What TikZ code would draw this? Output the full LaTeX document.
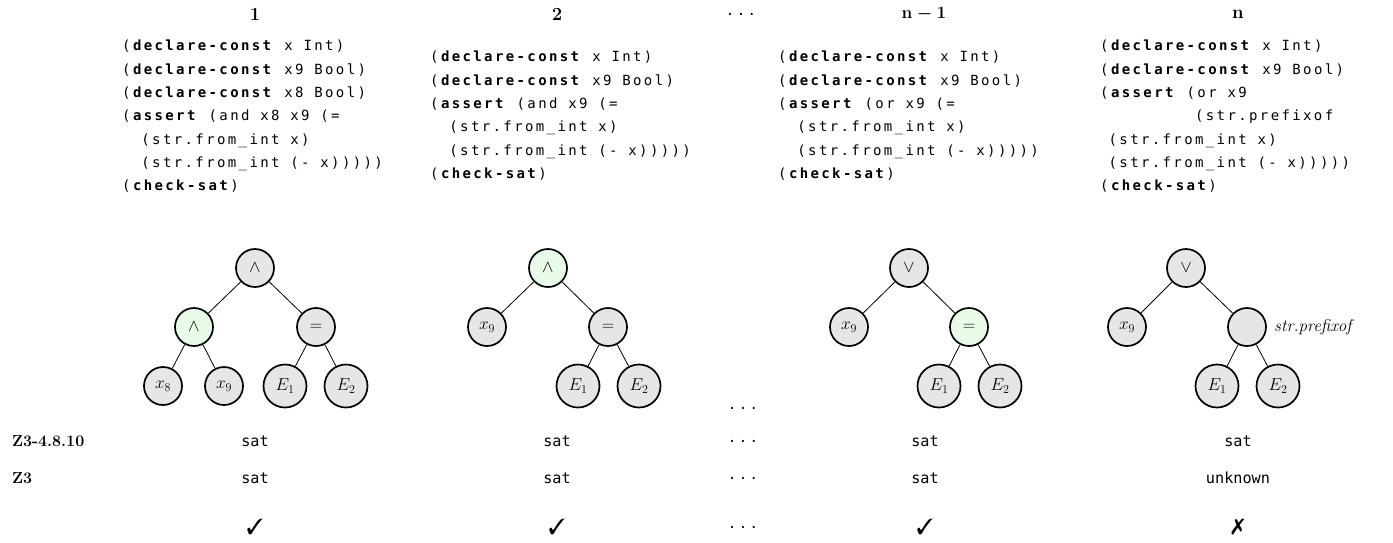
\documentclass[tikz,border=0pt]{standalone}
\usepackage{fontspec}
\usepackage{pifont}
\newfontfamily\code[LetterSpace=17]{DejaVu Sans Mono}
\newfontfamily\plainmono{DejaVu Sans Mono}
\definecolor{nodegray}{HTML}{E6E6E6}
\definecolor{nodegreen}{HTML}{E8FBE8}
\tikzset{
  codeblock/.style={anchor=north west, align=left, inner sep=0pt, font=\code\fontsize{14}{23.3}\selectfont},
  head/.style={font=\fontsize{18.5}{20}\selectfont\bfseries\boldmath},
  rowlabel/.style={anchor=west, inner sep=0pt, font=\fontsize{16}{18}\selectfont\bfseries},
  res/.style={font=\plainmono\fontsize{15.2}{17}\selectfont},
  dots/.style={font=\code\fontsize{14}{17}\selectfont},
  chk/.style={font=\fontsize{22}{24}\selectfont},
  tn/.style={circle, draw, line width=1.7pt, fill=nodegray, minimum size=38pt, inner sep=1pt, font=\fontsize{18}{20}\selectfont},
  en/.style={tn, minimum size=43pt},
  gn/.style={tn, fill=nodegreen},
  edge/.style={line width=0.8pt},
}
\newcommand{\kw}[1]{\textbf{#1}}
\newcommand{\ind}[1]{\phantom{#1}}
\begin{document}
\begin{tikzpicture}[x=1pt,y=-1pt]
\useasboundingbox (0,0) rectangle (1393,542);
% headers
\node[head] (h1) at (255,14) {1};
\node[head] (h2) at (557,14) {2};
\node[dots] (hd) at (741,14) {...};
\node[head] (h3) at (924,14) {$\mathbf{n-1}$};
\node[head] (h4) at (1238,14) {n};
% code
\node[codeblock] (c1) at (122,40) {(\kw{declare-const} x Int)\\(\kw{declare-const} x9 Bool)\\(\kw{declare-const} x8 Bool)\\(\kw{assert} (and x8 x9 (=\\\ind{xx}(str.from\_int x)\\\ind{xx}(str.from\_int (- x)))))\\(\kw{check-sat})};
\node[codeblock] (c2) at (430,51) {(\kw{declare-const} x Int)\\(\kw{declare-const} x9 Bool)\\(\kw{assert} (and x9 (=\\\ind{xx}(str.from\_int x)\\\ind{xx}(str.from\_int (- x)))))\\(\kw{check-sat})};
\node[codeblock] (c3) at (778,51) {(\kw{declare-const} x Int)\\(\kw{declare-const} x9 Bool)\\(\kw{assert} (or x9 (=\\\ind{xx}(str.from\_int x)\\\ind{xx}(str.from\_int (- x)))))\\(\kw{check-sat})};
\node[codeblock] (c4) at (1100,40) {(\kw{declare-const} x Int)\\(\kw{declare-const} x9 Bool)\\(\kw{assert} (or x9\\\ind{xxxxxxxxx}(str.prefixof\\\ind{x}(str.from\_int x)\\\ind{x}(str.from\_int (- x)))))\\(\kw{check-sat})};
% tree 1
\node[tn] (a1) at (255,268) {$\wedge$};
\node[gn] (a1l) at (194,327) {$\wedge$};
\node[tn] (a1r) at (316,327) {$=$};
\node[tn] (a1x8) at (163,386) {$x_8$};
\node[tn] (a1x9) at (224,386) {$x_9$};
\node[en] (a1e1) at (285,386) {$E_1$};
\node[en] (a1e2) at (346,386) {$E_2$};
\draw[edge] (a1) -- (a1l); \draw[edge] (a1) -- (a1r);
\draw[edge] (a1l) -- (a1x8); \draw[edge] (a1l) -- (a1x9);
\draw[edge] (a1r) -- (a1e1); \draw[edge] (a1r) -- (a1e2);
% tree 2
\node[gn] (b1) at (548,268) {$\wedge$};
\node[tn] (b1x9) at (487,327) {$x_9$};
\node[tn] (b1r) at (608,327) {$=$};
\node[en] (b1e1) at (578,386) {$E_1$};
\node[en] (b1e2) at (639,386) {$E_2$};
\draw[edge] (b1) -- (b1x9); \draw[edge] (b1) -- (b1r);
\draw[edge] (b1r) -- (b1e1); \draw[edge] (b1r) -- (b1e2);
% dots
\node[dots] (md) at (743,408) {...};
% tree 3
\node[tn] (c1r) at (909,268) {$\vee$};
\node[tn] (c1x9) at (849,327) {$x_9$};
\node[gn] (c1q) at (969,327) {$=$};
\node[en] (c1e1) at (939,386) {$E_1$};
\node[en] (c1e2) at (1000,386) {$E_2$};
\draw[edge] (c1r) -- (c1x9); \draw[edge] (c1r) -- (c1q);
\draw[edge] (c1q) -- (c1e1); \draw[edge] (c1q) -- (c1e2);
% tree 4
\node[tn] (d1) at (1186,268) {$\vee$};
\node[tn] (d1x9) at (1127,327) {$x_9$};
\node[tn] (d1p) at (1247,327) {};
\node[en] (d1e1) at (1217,386) {$E_1$};
\node[en] (d1e2) at (1278,386) {$E_2$};
\node[anchor=west, inner sep=0pt, font=\fontsize{17}{19}\selectfont\itshape] (d1lab) at (1274,327) {str.prefixof};
\draw[edge] (d1) -- (d1x9); \draw[edge] (d1) -- (d1p);
\draw[edge] (d1p) -- (d1e1); \draw[edge] (d1p) -- (d1e2);
% rows
\node[rowlabel] (r1) at (12,441) {Z3-4.8.10};
\node[rowlabel] (r2) at (12,478) {Z3};
\node[res] (s11) at (255,441) {sat};
\node[res] (s12) at (557,441) {sat};
\node[dots] (s1d) at (743,441) {...};
\node[res] (s13) at (925,441) {sat};
\node[res] (s14) at (1238,441) {sat};
\node[res] (s21) at (255,478) {sat};
\node[res] (s22) at (557,478) {sat};
\node[dots] (s2d) at (743,478) {...};
\node[res] (s23) at (925,478) {sat};
\node[res] (s24) at (1238,478) {unknown};
\node[chk] (m1) at (255,527) {\ding{51}};
\node[chk] (m2) at (557,527) {\ding{51}};
\node[dots] (m3d) at (743,527) {...};
\node[chk] (m3) at (925,527) {\ding{51}};
\node[chk] (m4) at (1238,527) {\ding{55}};
\end{tikzpicture}
\end{document}
